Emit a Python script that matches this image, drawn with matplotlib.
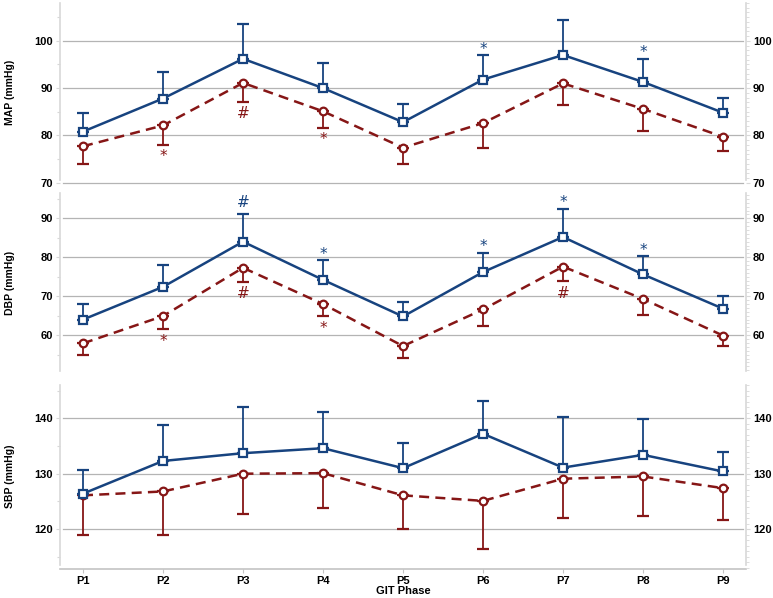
"""
GIT phase blood pressure panels (MAP / DBP / SBP), two groups with one-sided SD bars
"""
import matplotlib
matplotlib.use('Agg')
import matplotlib.pyplot as plt
from matplotlib.ticker import MultipleLocator, FixedLocator

plt.rcParams['font.family'] = ['Liberation Sans', 'DejaVu Sans']

phases = ['P1', 'P2', 'P3', 'P4', 'P5', 'P6', 'P7', 'P8', 'P9']

# MAP
map_blue = [80.8, 87.8, 96.2, 90.0, 82.8, 91.8, 97.0, 91.3, 84.8]
map_blue_sd = [4.0, 5.7, 7.3, 5.4, 3.8, 5.1, 7.3, 4.9, 3.1]
map_red = [77.7, 82.1, 91.1, 85.1, 77.4, 82.6, 91.0, 85.6, 79.7]
map_red_sd = [3.8, 4.2, 4.1, 3.6, 3.5, 5.2, 4.6, 4.6, 3.0]

# DBP
dbp_blue = [64.0, 72.4, 84.0, 74.2, 64.8, 76.2, 85.2, 75.6, 66.8]
dbp_blue_sd = [3.9, 5.6, 7.1, 5.0, 3.6, 5.0, 7.2, 4.6, 3.2]
dbp_red = [57.9, 64.9, 77.3, 68.0, 57.2, 66.6, 77.6, 69.3, 59.9]
dbp_red_sd = [3.0, 3.4, 3.6, 3.2, 3.1, 4.3, 3.8, 4.0, 2.7]

# SBP
sbp_blue = [126.4, 132.3, 133.7, 134.6, 131.0, 137.2, 131.1, 133.4, 130.4]
sbp_blue_sd = [4.2, 6.5, 8.4, 6.5, 4.6, 6.0, 9.1, 6.4, 3.6]
sbp_red = [126.1, 126.8, 130.0, 130.1, 126.1, 125.1, 129.1, 129.5, 127.4]
sbp_red_sd = [7.1, 7.8, 7.3, 6.2, 6.0, 8.7, 7.0, 7.1, 5.7]

# significance marks: (phase index, group, symbol)
map_marks = [(1, 'red', '*'), (2, 'red', '#'), (3, 'red', '*'),
             (5, 'blue', '*'), (7, 'blue', '*')]
dbp_marks = [(1, 'red', '*'), (2, 'blue', '#'), (2, 'red', '#'),
             (3, 'blue', '*'), (3, 'red', '*'), (5, 'blue', '*'),
             (6, 'blue', '*'), (6, 'red', '#'), (7, 'blue', '*')]
sbp_marks = []

BLUE = '#17437f'
RED = '#861616'
GRID = '#b4b4b4'
SPINE = '#d8d8d8'

panels = [
    # label, blue, blue sd, red, red sd, marks, ylim, gridlines, major ticks, axes rect
    ('MAP (mmHg)', map_blue, map_blue_sd, map_red, map_red_sd, map_marks,
     (70, 108.0), [70, 80, 90, 100], [70, 80, 90, 100],
     [0.0776, 0.6945, 0.8875, 0.3005]),
    ('DBP (mmHg)', dbp_blue, dbp_blue_sd, dbp_red, dbp_red_sd, dbp_marks,
     (50.3, 96.5), [60, 70, 80, 90], [60, 70, 80, 90],
     [0.0776, 0.3763, 0.8875, 0.301]),
    ('SBP (mmHg)', sbp_blue, sbp_blue_sd, sbp_red, sbp_red_sd, sbp_marks,
     (113.0, 146.0), [120, 130, 140], [120, 130, 140],
     [0.0776, 0.0502, 0.8875, 0.306]),
]

fig = plt.figure(figsize=(7.73, 5.98), dpi=100)
x = list(range(1, len(phases) + 1))

for i, (label, b, bsd, r, rsd, marks, ylim, grids, majors, rect) in enumerate(panels):
    ax = fig.add_axes(rect)
    ax.set_xlim(0.7125, 9.2875)
    ax.set_ylim(*ylim)

    for g in grids:
        ax.axhline(g, xmin=0.004, xmax=0.995, color=GRID, lw=0.9, zorder=0,
                   clip_on=False)

    # lines with one-sided error bars
    ax.errorbar(x, b, yerr=[[0] * len(bsd), bsd], fmt='-s', color=BLUE, lw=1.8,
                ms=5.5, mfc='white', mec=BLUE, mew=1.6, elinewidth=1.3,
                capsize=4, capthick=1.3, zorder=3)
    ax.errorbar(x, r, yerr=[rsd, [0] * len(rsd)], fmt='--o', color=RED, lw=1.8,
                ms=5.5, mfc='white', mec=RED, mew=1.6, elinewidth=1.3,
                capsize=4, capthick=1.3, dashes=(4, 2.5), zorder=2)

    for idx, grp, sym in marks:
        if grp == 'blue':
            yv = b[idx] + bsd[idx]
            off = 3 if sym == '#' else -1
            ax.annotate(sym, (x[idx], yv), xytext=(0, off), textcoords='offset points',
                        ha='center', va='bottom', color=BLUE, fontsize=11,
                        family='DejaVu Sans')
        else:
            yv = r[idx] - rsd[idx]
            ax.annotate(sym, (x[idx], yv), xytext=(0, -3), textcoords='offset points',
                        ha='center', va='top', color=RED, fontsize=11,
                        family='DejaVu Sans')

    # spines
    for s in ['top', 'bottom']:
        ax.spines[s].set_visible(False)
    for s in ['left', 'right']:
        ax.spines[s].set_color(SPINE)
        ax.spines[s].set_linewidth(1.2)
    ax.spines['left'].set_bounds(ylim[0] + 0.5, ylim[1])
    ax.spines['right'].set_bounds(ylim[0] + 0.5, ylim[1])

    ax.yaxis.set_major_locator(FixedLocator(majors))
    ax.yaxis.set_minor_locator(MultipleLocator(5))
    ax.tick_params(axis='y', which='major', left=True, right=False, length=3,
                   width=0.8, color=SPINE, labelsize=8, pad=2)
    ax.tick_params(axis='y', which='minor', left=True, right=False, length=2.5,
                   width=0.8, color=SPINE)
    for t in ax.get_yticklabels():
        t.set_fontweight('bold')
    ax.set_ylabel(label, fontsize=7.5, fontweight='bold')
    ax.yaxis.set_label_coords(-0.066, 0.5)

    # right-hand axis, same scale, dense ticks
    axr = ax.twinx()
    axr.set_ylim(*ylim)
    for s in ['top', 'bottom', 'left', 'right']:
        axr.spines[s].set_visible(False)
    axr.yaxis.set_major_locator(FixedLocator(majors))
    axr.yaxis.set_minor_locator(MultipleLocator(1))
    axr.tick_params(axis='y', which='major', length=3, width=0.8, color=SPINE,
                    labelsize=8, pad=2)
    axr.tick_params(axis='y', which='minor', length=2, width=0.6, color=SPINE)
    for t in axr.get_yticklabels():
        t.set_fontweight('bold')

    if i == len(panels) - 1:
        ax.spines['bottom'].set_visible(True)
        ax.spines['bottom'].set_color('#c4c4c4')
        ax.spines['bottom'].set_linewidth(1.2)
        ax.spines['bottom'].set_position(('outward', 1))
        ax.set_xticks(x)
        ax.set_xticklabels(phases, fontsize=8, fontweight='bold')
        ax.tick_params(axis='x', length=3, width=0.8, color='#c4c4c4', pad=2)
        ax.set_xlabel('GIT Phase', fontsize=8, fontweight='bold', labelpad=0)
    else:
        ax.set_xticks([])

plt.savefig('out.png', dpi=100)
plt.close()
